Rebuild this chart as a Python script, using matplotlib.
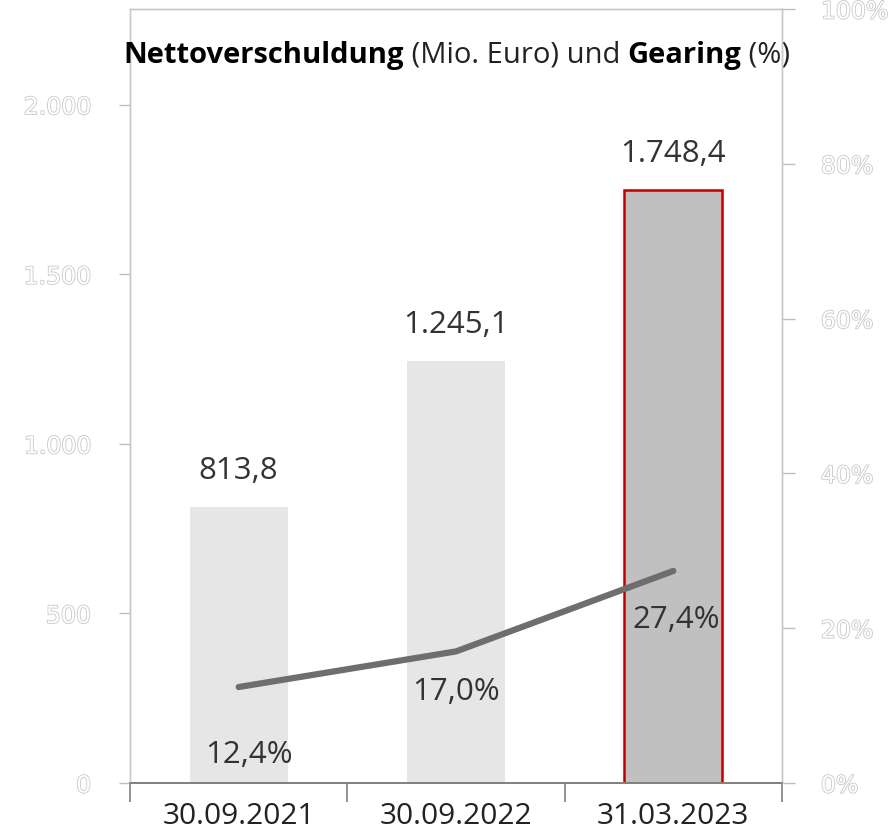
import matplotlib
matplotlib.use("Agg")
import matplotlib.pyplot as plt
import matplotlib.patheffects as pe

categories = ["30.09.2021", "30.09.2022", "31.03.2023"]
net_debt = [813.8, 1245.1, 1748.4]
gearing = [12.4, 17.0, 27.4]
debt_labels = ["813,8", "1.245,1", "1.748,4"]
gearing_labels = ["12,4%", "17,0%", "27,4%"]
left_ticks = [0, 500, 1000, 1500, 2000]
left_tick_labels = ["0", "500", "1.000", "1.500", "2.000"]
right_ticks = [0, 20, 40, 60, 80, 100]
right_tick_labels = ["0%", "20%", "40%", "60%", "80%", "100%"]

FONT = "Open Sans"
fig = plt.figure(figsize=(8.9, 8.39), dpi=100)
ax = fig.add_axes([130/890, 1-783/839, (782-130)/890, (783-9)/839])
ax2 = ax.twinx()

x = list(range(len(categories)))
face = ["#e6e6e6", "#e6e6e6", "#c0c0c0"]
edge = ["none", "none", "#c00000"]
lw = [0, 0, 1.8]
ax.bar(x, net_debt, width=0.45, color=face, edgecolor=edge, linewidth=lw, zorder=2)
ax.set_xlim(-0.5, 2.5)
ax.set_ylim(0, 2282)

for xi, v, lab in zip(x, net_debt, debt_labels):
    ax.annotate(lab, (xi, v), xytext=(0, 36), textcoords="offset pixels",
                ha="center", va="center", fontsize=22.5, family=FONT, color="#333333")

ax2.plot(x, gearing, color="#6e6e6e", linewidth=4.5, solid_capstyle="round", zorder=3)
ax2.set_ylim(0, 100)
offs = [(10, -68), (0, -41), (3, -49)]
for xi, v, lab, o in zip(x, gearing, gearing_labels, offs):
    ax2.annotate(lab, (xi, v), xytext=o, textcoords="offset pixels",
                 ha="center", va="center", fontsize=22.5, family=FONT, color="#333333")

outline = [pe.withStroke(linewidth=1.2, foreground="#c8c8c8")]
ax.set_yticks(left_ticks)
ax.set_yticklabels(left_tick_labels)
ax2.set_yticks(right_ticks)
ax2.set_yticklabels(right_tick_labels)
for lab in ax.get_yticklabels() + ax2.get_yticklabels():
    lab.set_color("white")
    lab.set_fontsize(17)
    lab.set_family("DejaVu Sans")
    lab.set_path_effects(outline)
ax.tick_params(axis="y", length=8, width=1, color="#bfbfbf", pad=20, direction="out")
ax2.tick_params(axis="y", length=9, width=1, color="#bfbfbf", pad=19, direction="out")

ax.set_xticks([-0.5, 0.5, 1.5, 2.5], minor=False)
ax.set_xticklabels([])
ax.set_xticks(x, minor=True)
ax.set_xticklabels(categories, minor=True)
ax.tick_params(axis="x", which="major", length=14, width=1.2, color="#808080", direction="out")
ax.tick_params(axis="x", which="minor", length=0, pad=14)
for lab in ax.get_xticklabels(minor=True):
    lab.set_fontsize(21.5)
    lab.set_family(FONT)
    lab.set_color("#222222")

for a in (ax, ax2):
    for s in ("left", "right", "top"):
        a.spines[s].set_color("#c8c8c8")
        a.spines[s].set_linewidth(1)
    a.spines["bottom"].set_color("#808080")
    a.spines["bottom"].set_linewidth(1.2)

# title with mixed weights
TS = 21
t1 = fig.text(123/890, 1-55/839, "Nettoverschuldung", fontsize=TS, family=FONT,
              fontweight="bold", va="center", ha="left", color="black")
t2 = ax.annotate(" (Mio. Euro) und ", xy=(1, 0), xycoords=t1, va="bottom", ha="left",
                 fontsize=TS, family=FONT, color="#222222", annotation_clip=False)
t3 = ax.annotate("Gearing", xy=(1, 0), xycoords=t2, va="bottom", ha="left",
                 fontsize=TS, family=FONT, fontweight="bold", color="black", annotation_clip=False)
t4 = ax.annotate(" (%)", xy=(1, 0), xycoords=t3, va="bottom", ha="left",
                 fontsize=TS, family=FONT, color="#222222", annotation_clip=False)

fig.savefig("out.png", dpi=100)
